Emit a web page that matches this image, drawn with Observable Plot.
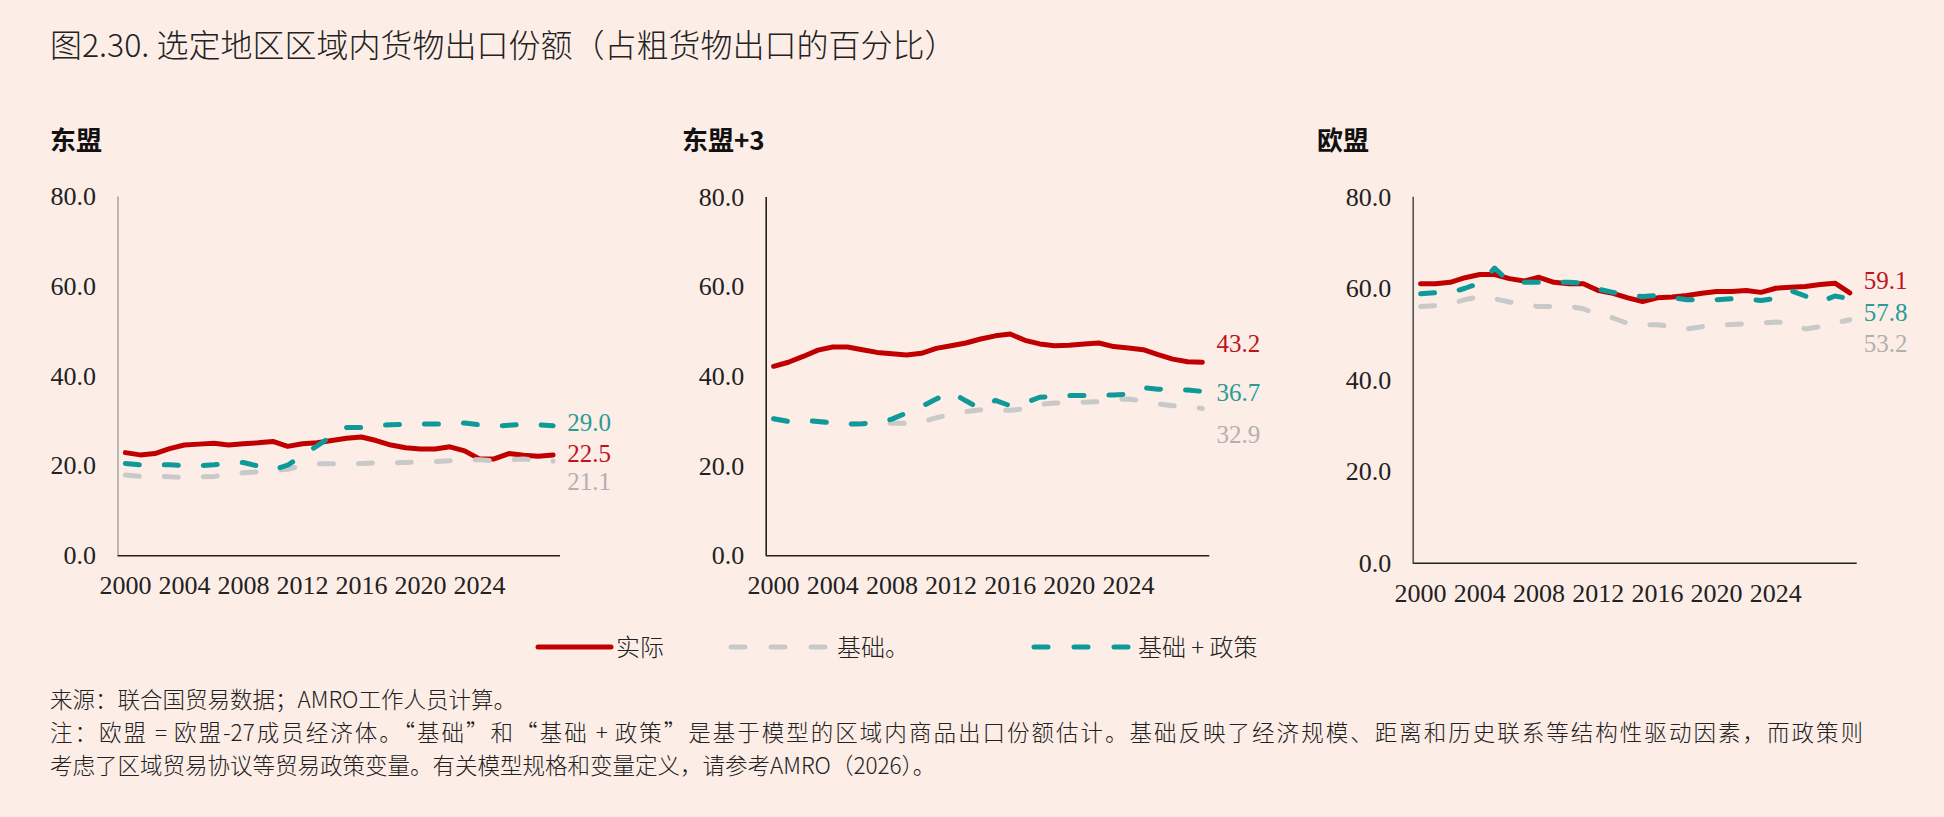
<!DOCTYPE html>
<html>
<head>
<meta charset="utf-8">
<script src="https://cdn.jsdelivr.net/npm/d3@7"></script>
<script src="https://cdn.jsdelivr.net/npm/@observablehq/plot@0.6"></script>
<style>
  html, body { margin: 0; padding: 0; background: #fcede7; }
  #page { position: relative; width: 1944px; height: 817px; background: #fcede7; overflow: hidden;
          font-family: "Noto Sans CJK SC", "Noto Sans", sans-serif; color: #222; }
  .title { position: absolute; left: 50px; top: 24px; font-size: 32px; font-weight: 300; line-height: 38px; white-space: nowrap; }
  .ptitle { position: absolute; top: 124px; font-size: 26px; font-weight: 700; line-height: 30px; color: #111; white-space: nowrap; }
  .panel { position: absolute; top: 180px; }
  .leg-swatch { position: absolute; }
  .leg-text { position: absolute; font-size: 24px; font-weight: 300; line-height: 28px; white-space: nowrap; }
  .note { position: absolute; left: 50px; font-size: 22.5px; font-weight: 300; line-height: 28px; white-space: nowrap; }
  .note.just { width: 1813px; text-align: justify; text-align-last: justify; white-space: normal; }
</style>
</head>
<body>
<div id="page"></div>
<script>
// Years on the category axis
const years = [2000, 2001, 2002, 2003, 2004, 2005, 2006, 2007, 2008, 2009,
               2010, 2011, 2012, 2013, 2014, 2015, 2016, 2017, 2018, 2019,
               2020, 2021, 2022, 2023, 2024, 2025, 2026, 2027, 2028, 2029];
const xTicks = [2000, 2004, 2008, 2012, 2016, 2020, 2024];
const yTicks = [0, 20, 40, 60, 80];

const seriesNames = ["实际", "基础。", "基础 + 政策"];
const panelTitles = ["东盟", "东盟+3", "欧盟"];

// 东盟
const aseanActual = [23.0, 22.5, 22.8, 23.9, 24.7, 24.9, 25.1, 24.7, 25.0, 25.2,
                     25.5, 24.4, 25.0, 25.2, 25.7, 26.2, 26.5, 25.7, 24.7, 24.1,
                     23.8, 23.8, 24.3, 23.4, 21.6, 21.6, 22.8, 22.4, 22.2, 22.5];
const aseanBase   = [18.0, 17.7, 17.8, 17.6, 17.5, 17.6, 17.7, 18.1, 18.5, 18.7,
                     19.0, 19.3, 20.1, 20.5, 20.5, 20.5, 20.6, 20.7, 20.7, 20.8,
                     20.9, 21.0, 21.2, 21.4, 21.4, 21.2, 21.4, 21.6, 21.2, 21.1];
const aseanPolicy = [20.6, 20.3, 20.3, 20.3, 20.1, 20.1, 20.3, 20.6, 20.8, 20.0,
                     19.2, 20.2, 22.4, 24.5, 26.7, 28.6, 28.6, 29.1, 29.2, 29.3,
                     29.4, 29.4, 29.4, 29.6, 29.2, 28.9, 29.1, 29.3, 29.2, 29.0];

// 东盟+3
const apt3Actual = [42.3, 43.2, 44.5, 45.9, 46.6, 46.6, 46.0, 45.4, 45.1, 44.8,
                    45.2, 46.3, 46.9, 47.5, 48.4, 49.1, 49.5, 48.1, 47.3, 46.9,
                    47.0, 47.3, 47.5, 46.7, 46.4, 46.0, 44.9, 43.9, 43.3, 43.2];
const apt3Base   = [30.6, 30.0, 30.2, 30.0, 29.7, 29.4, 29.5, 29.7, 29.6, 29.6,
                    29.9, 30.8, 31.6, 32.2, 32.6, 32.5, 32.5, 32.8, 33.8, 34.1,
                    34.2, 34.3, 34.4, 34.9, 35.0, 34.5, 33.9, 33.5, 33.2, 32.9];
const apt3Policy = [30.6, 30.0, 30.2, 30.0, 29.7, 29.4, 29.5, 29.7, 30.5, 31.9,
                    33.3, 35.0, 36.5, 34.6, 32.8, 34.7, 33.5, 34.1, 35.4, 35.6,
                    35.8, 35.8, 35.8, 35.9, 36.1, 37.5, 37.2, 37.1, 37.0, 36.7];

// 欧盟
const euActual = [61.1, 61.1, 61.4, 62.4, 63.1, 63.1, 62.2, 61.7, 62.5, 61.4,
                  61.1, 61.1, 59.6, 59.0, 58.0, 57.2, 58.0, 58.2, 58.5, 59.0,
                  59.4, 59.4, 59.6, 59.2, 60.1, 60.3, 60.5, 60.9, 61.2, 59.1];
const euBase   = [56.1, 56.3, 56.7, 57.6, 58.3, 57.8, 57.1, 56.5, 56.1, 56.1,
                  56.2, 55.6, 54.4, 53.6, 52.4, 52.1, 52.1, 51.8, 51.2, 51.7,
                  52.0, 52.2, 52.3, 52.5, 52.7, 52.6, 51.2, 51.7, 52.5, 53.2];
const euPolicy = [58.9, 59.1, 59.1, 60.1, 61.2, 64.5, 61.5, 61.4, 61.4, 61.4,
                  61.4, 61.2, 59.9, 59.2, 58.5, 58.3, 58.5, 58.0, 57.6, 57.6,
                  57.6, 57.8, 57.8, 57.4, 57.9, 59.6, 58.4, 57.1, 58.4, 57.8];

// Styling for the three series (actual, baseline, baseline + policy)
const seriesStyle = [
  {stroke: "#c00000", label: "#c0141c", dash: null},
  {stroke: "#c9c9c9", label: "#b3b0b0", dash: "14,25"},
  {stroke: "#0e9a99", label: "#2b9b96", dash: "14,25"}
];
// draw order: actual first, then baseline, then baseline + policy on top
const drawOrder = [0, 1, 2];

const panels = [
  {left: 0,    width: 640, ml: 117.5, mr: 80,   mt: 16.5, mb: 64.7, axisColor: "#a8a8a8",
   titleLeft: 50,   series: [aseanActual, aseanBase, aseanPolicy], labelDy: [-1, 21, -3]},
  {left: 640,  width: 640, ml: 125.7, mr: 70.7, mt: 16.9, mb: 64.7, axisColor: "#222",
   titleLeft: 682,  series: [apt3Actual, apt3Base, apt3Policy], labelDy: [-18, 27, 2]},
  {left: 1290, width: 654, ml: 122.7, mr: 87.3, mt: 16.7, mb: 57.3, axisColor: "#555",
   titleLeft: 1317, series: [euActual, euBase, euPolicy], labelDy: [-12, 24, 14]}
];

const page = document.getElementById("page");
const fmt1 = d3.format(".1f");

function addDiv(cls, text, style) {
  const el = document.createElement("div");
  el.className = cls;
  el.textContent = text;
  Object.assign(el.style, style || {});
  page.appendChild(el);
  return el;
}

addDiv("title", "图2.30. 选定地区区域内货物出口份额（占粗货物出口的百分比）");

panels.forEach((p, i) => {
  addDiv("ptitle", panelTitles[i], {left: p.titleLeft + "px"});

  const xDomain = [years[0] - 0.5, years[years.length - 1] + 0.5];
  const rowsOf = (vals) => years.map((year, k) => ({year, value: vals[k]}));

  const marks = [
    Plot.axisY({ticks: yTicks, tickSize: 0, tickPadding: 22, tickFormat: fmt1, label: null}),
    Plot.axisX({ticks: xTicks, tickSize: 0, tickPadding: 20, tickFormat: d => String(d), label: null}),
    Plot.ruleX([xDomain[0]], {stroke: p.axisColor, strokeWidth: 1.6}),
    Plot.ruleY([0], {stroke: "#222", strokeWidth: 1.6})
  ];

  drawOrder.forEach(s => {
    const st = seriesStyle[s];
    const rows = rowsOf(p.series[s]);
    marks.push(Plot.line(rows, {
      x: "year", y: "value", stroke: st.stroke, strokeWidth: 5,
      strokeLinejoin: "round", strokeLinecap: "round",
      strokeDasharray: st.dash || undefined
    }));
  });

  // end-of-line value labels
  [0, 1, 2].forEach(s => {
    const st = seriesStyle[s];
    const rows = rowsOf(p.series[s]);
    const last = rows[rows.length - 1];
    marks.push(Plot.text([last], {
      x: "year", y: "value", text: d => fmt1(d.value),
      dx: 14, dy: p.labelDy[s], textAnchor: "start", fill: st.label, fontSize: 25
    }));
  });

  const chart = Plot.plot({
    width: p.width, height: 440,
    marginLeft: p.ml, marginRight: p.mr, marginTop: p.mt, marginBottom: p.mb,
    x: {domain: xDomain},
    y: {domain: [0, 80]},
    style: {background: "transparent", fontFamily: "'Liberation Serif', 'DejaVu Serif', serif",
            fontSize: "26px", color: "#222", overflow: "visible"},
    marks
  });
  chart.classList.add("panel");
  chart.style.left = p.left + "px";
  chart.style.position = "absolute";
  chart.style.top = "180px";
  page.appendChild(chart);
});

// Legend
const legendItems = [
  {swLeft: 535, swWidth: 79, text: 616},
  {swLeft: 728, swWidth: 104, text: 837},
  {swLeft: 1031, swWidth: 101, text: 1138}
];
const legendY = 647;
legendItems.forEach((it, s) => {
  const st = seriesStyle[s];
  const svg = d3.create("svg")
    .attr("class", "leg-swatch")
    .attr("width", it.swWidth).attr("height", 12)
    .style("left", it.swLeft + "px").style("top", (legendY - 6) + "px");
  svg.append("line")
    .attr("x1", 3).attr("x2", it.swWidth - 3).attr("y1", 6).attr("y2", 6)
    .attr("stroke", st.stroke).attr("stroke-width", 5)
    .attr("stroke-linecap", "round")
    .attr("stroke-dasharray", st.dash ? "14,26" : null);
  page.appendChild(svg.node());
  addDiv("leg-text", seriesNames[s], {left: it.text + "px", top: (legendY - 15) + "px"});
});

// Source and notes
addDiv("note", "来源：联合国贸易数据；AMRO工作人员计算。", {top: "684px"});
addDiv("note just", "注：欧盟 = 欧盟-27成员经济体。“基础”和“基础 + 政策”是基于模型的区域内商品出口份额估计。基础反映了经济规模、距离和历史联系等结构性驱动因素，而政策则", {top: "717px"});
addDiv("note", "考虑了区域贸易协议等贸易政策变量。有关模型规格和变量定义，请参考AMRO（2026）。", {top: "750px"});
</script>
</body>
</html>
